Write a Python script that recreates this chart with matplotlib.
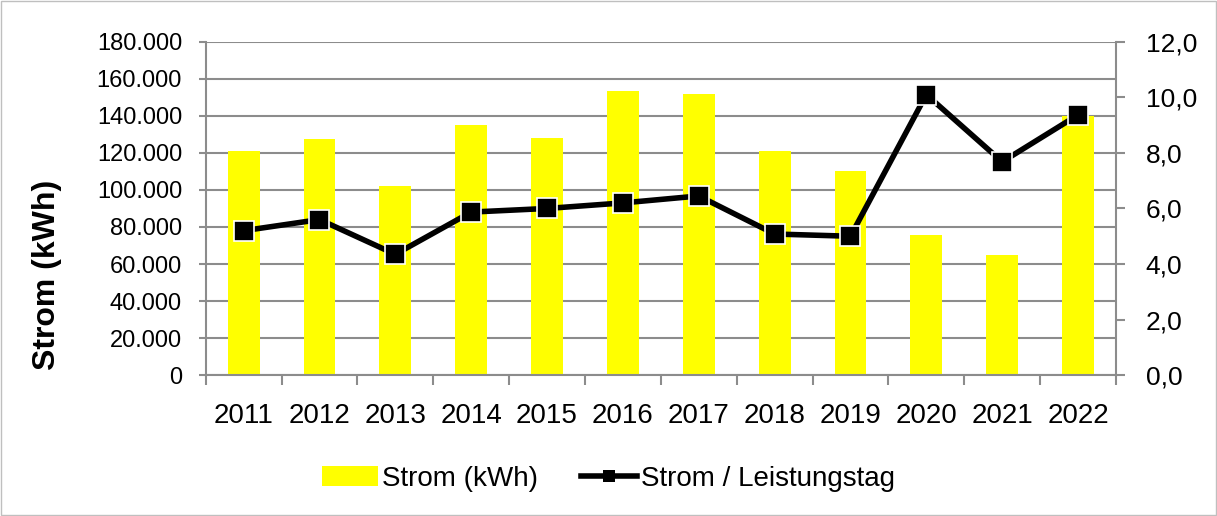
import matplotlib.pyplot as plt
import matplotlib.ticker as mticker
import numpy as np

plt.rcParams['font.family'] = ['Liberation Sans', 'DejaVu Sans']

jahre = ['2011', '2012', '2013', '2014', '2015', '2016', '2017', '2018', '2019', '2020', '2021', '2022']
strom_kwh = [121000, 127500, 102000, 135000, 128000, 153500, 152000, 121000, 110000, 75500, 65000, 140000]
strom_tag = [5.2, 5.6, 4.35, 5.87, 6.0, 6.2, 6.45, 5.08, 5.0, 10.1, 7.68, 9.37]

grau = '#8c8c8c'

fig = plt.figure(figsize=(12.17, 5.16), dpi=100)
ax = fig.add_axes([0.169, 0.273, 0.748, 0.646])
x = np.arange(len(jahre))

ax.set_axisbelow(True)
ax.yaxis.grid(True, color=grau, linewidth=1.5)
bars = ax.bar(x, strom_kwh, width=0.42, color='#ffff00', label='Strom (kWh)', zorder=2)
ax.set_xlim(-0.5, len(jahre) - 0.5)
ax.set_ylim(0, 180000)
ax.set_yticks(np.arange(0, 180001, 20000))
ax.yaxis.set_major_formatter(mticker.FuncFormatter(lambda v, p: '0' if v == 0 else f'{int(v):,}'.replace(',', '.')))
ax.set_xticks(x)
ax.set_xticklabels(jahre)
ax.set_xticks(np.arange(-0.5, len(jahre)), minor=True)
ax.tick_params(axis='x', which='major', length=0, labelsize=20, pad=20)
ax.tick_params(axis='x', which='minor', length=7, width=1.5, color=grau)
ax.tick_params(axis='y', length=5, width=1.5, color=grau, labelsize=17, pad=12)
ax.set_ylabel('Strom (kWh)', fontsize=23, fontweight='bold')
ax.yaxis.set_label_coords(-0.158, 0.30)
for s in ['top', 'right']:
    ax.spines[s].set_visible(False)
for s in ['left', 'bottom']:
    ax.spines[s].set_color(grau)
    ax.spines[s].set_linewidth(1.5)

ax2 = ax.twinx()
line, = ax2.plot(x, strom_tag, color='black', linewidth=4, marker='s', markersize=14,
                 markerfacecolor='black', markeredgecolor='white', markeredgewidth=1.2,
                 label='Strom / Leistungstag', zorder=3)
ax2.set_ylim(0, 12)
ax2.set_yticks(np.arange(0, 12.1, 2))
ax2.yaxis.set_major_formatter(mticker.FuncFormatter(lambda v, p: f'{v:.1f}'.replace('.', ',')))
ax2.tick_params(axis='y', length=6.5, width=1.5, color=grau, labelsize=19, pad=15)
for s in ['top', 'left', 'bottom']:
    ax2.spines[s].set_visible(False)
ax2.spines['right'].set_color(grau)
ax2.spines['right'].set_linewidth(1.5)

leg = fig.legend([bars, line], ['Strom (kWh)', 'Strom / Leistungstag'], loc='center',
                 bbox_to_anchor=(0.5, 0.072), ncol=2, frameon=False, fontsize=20,
                 handlelength=2.0, handleheight=0.75, columnspacing=1.55, handletextpad=0.15)
for h in leg.legend_handles:
    if hasattr(h, 'set_markersize'):
        h.set_markersize(9)
        h.set_markeredgewidth(0)

fig.patches.append(plt.Rectangle((0.001, 0.001), 0.998, 0.997, transform=fig.transFigure,
                                 fill=False, edgecolor='#bfbfbf', linewidth=1))

fig.savefig('out.png', dpi=100)
